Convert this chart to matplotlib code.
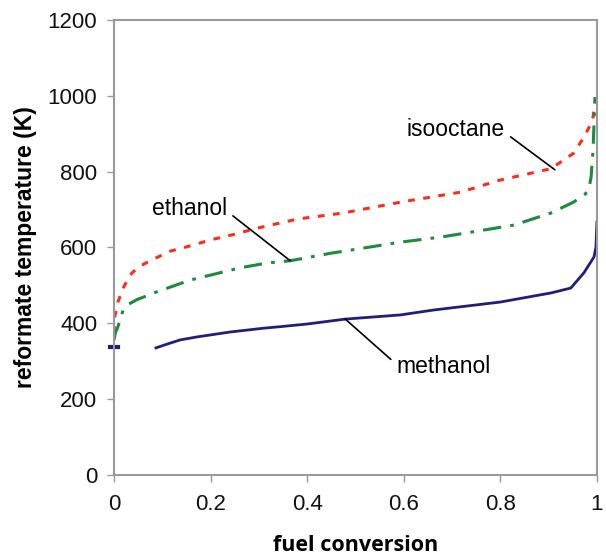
import matplotlib.pyplot as plt

# values
iso_x = [0, 0.002, 0.008, 0.018, 0.033, 0.05, 0.075, 0.116, 0.16, 0.2, 0.25, 0.297,
         0.38, 0.475, 0.595, 0.718, 0.80, 0.86, 0.905, 0.952, 0.973, 0.985, 0.992, 0.996]
iso_y = [375, 420, 455, 490, 527, 548, 565, 590, 605, 620, 635, 651,
         675, 691, 720, 746, 778, 795, 808, 849, 891, 920, 944, 983]

eth_x = [0, 0.003, 0.008, 0.019, 0.03, 0.047, 0.089, 0.158, 0.26, 0.317, 0.365, 0.45,
         0.5, 0.593, 0.68, 0.766, 0.828, 0.905, 0.952, 0.975, 0.983, 0.988, 0.992, 0.996]
eth_y = [355, 375, 390, 435, 450, 462, 483, 514, 546, 559, 565, 585,
         595, 614, 628, 646, 659, 691, 720, 740, 752, 786, 857, 997]

meth_x = [0.087, 0.11, 0.137, 0.172, 0.241, 0.31, 0.344, 0.4, 0.479, 0.593, 0.662,
          0.80, 0.905, 0.946, 0.973, 0.994, 0.998, 1.0]
meth_y = [335, 345, 356, 364, 377, 387, 391, 398, 411, 422, 435,
          456, 480, 493, 533, 575, 601, 667]
meth_start_x = [-0.008, 0.008]
meth_start_y = [338, 338]

x_ticks = [0, 0.2, 0.4, 0.6, 0.8, 1]
x_labels = ["0", "0.2", "0.4", "0.6", "0.8", "1"]
y_ticks = [0, 200, 400, 600, 800, 1000, 1200]

fig = plt.figure(figsize=(6.06, 5.58), dpi=100)
ax = fig.add_axes([0.188, 0.149, 0.797, 0.815])

ax.plot(iso_x, iso_y, color="#ff2a1a", lw=2.2, dashes=(2.2, 2.8))
ax.plot(eth_x, eth_y, color="#1e8a3c", lw=2.2, dashes=(6, 3, 1.2, 3))
ax.plot(meth_x, meth_y, color="#1f1f7a", lw=2)
ax.plot(meth_start_x, meth_start_y, color="#1f1f7a", lw=3, clip_on=False)

ax.set_xlim(0, 1)
ax.set_ylim(0, 1200)
ax.set_xticks(x_ticks)
ax.set_xticklabels(x_labels)
ax.set_yticks(y_ticks)

for s in ax.spines.values():
    s.set_color("#999999")
    s.set_linewidth(1.5)
ax.tick_params(colors="#999999", length=5, width=1, labelcolor="#111111",
               labelsize=16)
for lab in ax.get_xticklabels() + ax.get_yticklabels():
    lab.set_family("Liberation Sans")
ax.tick_params(axis="x", pad=9)
ax.tick_params(axis="y", pad=7)

ax.set_ylabel("reformate temperature (K)", fontsize=16.5, fontweight="bold",
              family="Liberation Sans", labelpad=8)
ax.set_xlabel("fuel conversion", fontsize=15.5, fontweight="bold",
              family="Open Sans", labelpad=14)

arrow = dict(arrowstyle="-", color="black", lw=1.2, shrinkA=3, shrinkB=0)
ax.annotate("isooctane", xy=(0.913, 805), xytext=(0.707, 910), ha="center",
            va="center", fontsize=16.5, family="Liberation Sans",
            arrowprops=dict(arrow, relpos=(1.0, 0.4)))
ax.annotate("ethanol", xy=(0.365, 565), xytext=(0.156, 702), ha="center",
            va="center", fontsize=16.5, family="Liberation Sans",
            arrowprops=dict(arrow, relpos=(1.0, 0.4)))
ax.annotate("methanol", xy=(0.479, 411), xytext=(0.683, 285), ha="center",
            va="center", fontsize=16.5, family="Liberation Sans",
            arrowprops=dict(arrow, relpos=(0.0, 0.6)))

fig.savefig("out.png", dpi=100)
